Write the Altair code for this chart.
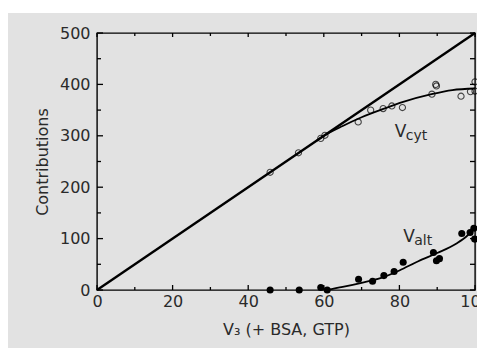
import altair as alt
import pandas as pd

# ---- data ----
cyt_x = [45.8, 53.3, 59.2, 60.3, 69.1, 72.4, 75.7, 78.0, 80.8, 88.6, 89.6, 89.8, 96.3, 98.8, 100.0, 100.0]
cyt_y = [229, 267, 295, 301, 327, 350, 353, 358, 355, 381, 400, 397, 377, 386, 387, 405]

alt_x = [45.8, 53.5, 59.2, 60.9, 69.2, 72.9, 75.9, 78.6, 81.0, 89.0, 89.8, 90.6, 96.5, 98.7, 99.7, 99.9]
alt_y = [0, 0, 5, 0, 21, 17, 28, 36, 54, 73, 57, 61, 110, 112, 120, 99]

cyt_fit_x = [58, 60.3, 65, 70, 76, 81, 88.5, 94, 100]
cyt_fit_y = [290, 301, 319, 336, 353, 366, 381, 389, 392]

alt_fit_x = [60.7, 65, 70, 75, 80, 85, 90, 95, 98, 100]
alt_fit_y = [0, 6, 14, 23, 38, 56, 72, 90, 106, 122]

diag_x = [0, 100]
diag_y = [0, 500]

x_major = [0, 20, 40, 60, 80, 100]
x_minor = [10, 30, 50, 70, 90]
y_major = [0, 100, 200, 300, 400, 500]
y_minor = [50, 150, 250, 350, 450]

lab_x = [78.8, 81.0]
lab_y = [297.7, 93.4]
lab_main = ["V", "V"]
lab_sub = ["cyt", "alt"]

W, H = 378, 257
FONT = "DejaVu Sans"
TXT = "#2a2a2a"

xs = alt.Scale(domain=[0, 100], nice=False, zero=False)
ys = alt.Scale(domain=[0, 500], nice=False, zero=False)

x_axis = alt.Axis(values=x_major, ticks=False, domain=False, grid=False, labelPadding=3,
                  labelFontSize=16, labelFont=FONT, labelColor=TXT,
                  title="V\u2083 (+ BSA, GTP)", titleFontSize=16, titleFont=FONT,
                  titleColor=TXT, titleFontWeight="normal", titlePadding=12, labelFlush=False)
y_axis = alt.Axis(values=y_major, ticks=False, domain=False, grid=False, labelPadding=7,
                  labelFontSize=16, labelFont=FONT, labelColor=TXT,
                  title="Contributions", titleFontSize=16, titleFont=FONT,
                  titleColor=TXT, titleFontWeight="normal", titlePadding=9)

cyt = pd.DataFrame({"x": cyt_x, "y": cyt_y})
alp = pd.DataFrame({"x": alt_x, "y": alt_y})
cfit = pd.DataFrame({"x": cyt_fit_x, "y": cyt_fit_y})
afit = pd.DataFrame({"x": alt_fit_x, "y": alt_fit_y})
diag = pd.DataFrame({"x": diag_x, "y": diag_y})
labs = pd.DataFrame({"x": lab_x, "y": lab_y, "m": lab_main, "s": lab_sub})

base_enc = dict(x=alt.X("x:Q", scale=xs, axis=x_axis), y=alt.Y("y:Q", scale=ys, axis=y_axis))

diag_l = alt.Chart(diag).mark_line(color="black", strokeWidth=2.4).encode(**base_enc)
cfit_l = alt.Chart(cfit).mark_line(color="black", strokeWidth=1.8, interpolate="monotone").encode(**base_enc)
afit_l = alt.Chart(afit).mark_line(color="black", strokeWidth=1.8, interpolate="monotone").encode(**base_enc)
cyt_p = alt.Chart(cyt).mark_point(shape="circle", size=38, filled=False, color="black", strokeWidth=1.1).encode(**base_enc)
alt_p = alt.Chart(alp).mark_point(shape="circle", size=50, filled=True, color="black", opacity=1).encode(**base_enc)

lab_m = alt.Chart(labs).mark_text(align="left", baseline="alphabetic", fontSize=17, font=FONT, color=TXT).encode(
    x=alt.X("x:Q", scale=xs), y=alt.Y("y:Q", scale=ys), text="m:N")
lab_s = alt.Chart(labs).mark_text(align="left", baseline="alphabetic", fontSize=14, font=FONT, color=TXT, dx=11, dy=3).encode(
    x=alt.X("x:Q", scale=xs), y=alt.Y("y:Q", scale=ys), text="s:N")

# inward tick marks
xmaj = pd.DataFrame({"v": x_major})
xmin = pd.DataFrame({"v": x_minor})
ymaj = pd.DataFrame({"v": y_major})
ymin = pd.DataFrame({"v": y_minor})
yall = pd.DataFrame({"v": y_major + y_minor})

tk = dict(color="black", thickness=1.3, opacity=1)
t_bot_maj = alt.Chart(xmaj).mark_tick(orient="vertical", size=5, **tk).encode(x=alt.X("v:Q", scale=xs), y=alt.value(H - 2.5))
t_bot_min = alt.Chart(xmin).mark_tick(orient="vertical", size=3, **tk).encode(x=alt.X("v:Q", scale=xs), y=alt.value(H - 1.5))
t_top_maj = alt.Chart(xmaj).mark_tick(orient="vertical", size=4, **tk).encode(x=alt.X("v:Q", scale=xs), y=alt.value(2))
t_top_min = alt.Chart(xmin).mark_tick(orient="vertical", size=3, **tk).encode(x=alt.X("v:Q", scale=xs), y=alt.value(1.5))
t_lft_maj = alt.Chart(ymaj).mark_tick(orient="horizontal", size=6, **tk).encode(y=alt.Y("v:Q", scale=ys), x=alt.value(3))
t_lft_min = alt.Chart(ymin).mark_tick(orient="horizontal", size=4, **tk).encode(y=alt.Y("v:Q", scale=ys), x=alt.value(2))
t_rgt = alt.Chart(yall).mark_tick(orient="horizontal", size=5, **tk).encode(y=alt.Y("v:Q", scale=ys), x=alt.value(W - 2.5))

# white strip above the grey panel
strip = alt.Chart(pd.DataFrame({"k": [0]})).mark_rect(color="white").encode(
    x=alt.value(-95), x2=alt.value(W + 40), y=alt.value(-26), y2=alt.value(-20))

chart = alt.layer(
    strip, diag_l, cfit_l, afit_l, cyt_p, alt_p, lab_m, lab_s,
    t_bot_maj, t_bot_min, t_top_maj, t_top_min, t_lft_maj, t_lft_min, t_rgt,
).properties(
    width=W, height=H,
    autosize=alt.AutoSizeParams(type="none"),
    padding={"left": 89, "top": 25, "right": 2, "bottom": 58},
    background="#e2e2e2",
).configure_view(stroke="black", strokeWidth=1.4, fill=None)

chart.save("out.html", embed_options={"renderer": "svg", "actions": False})
